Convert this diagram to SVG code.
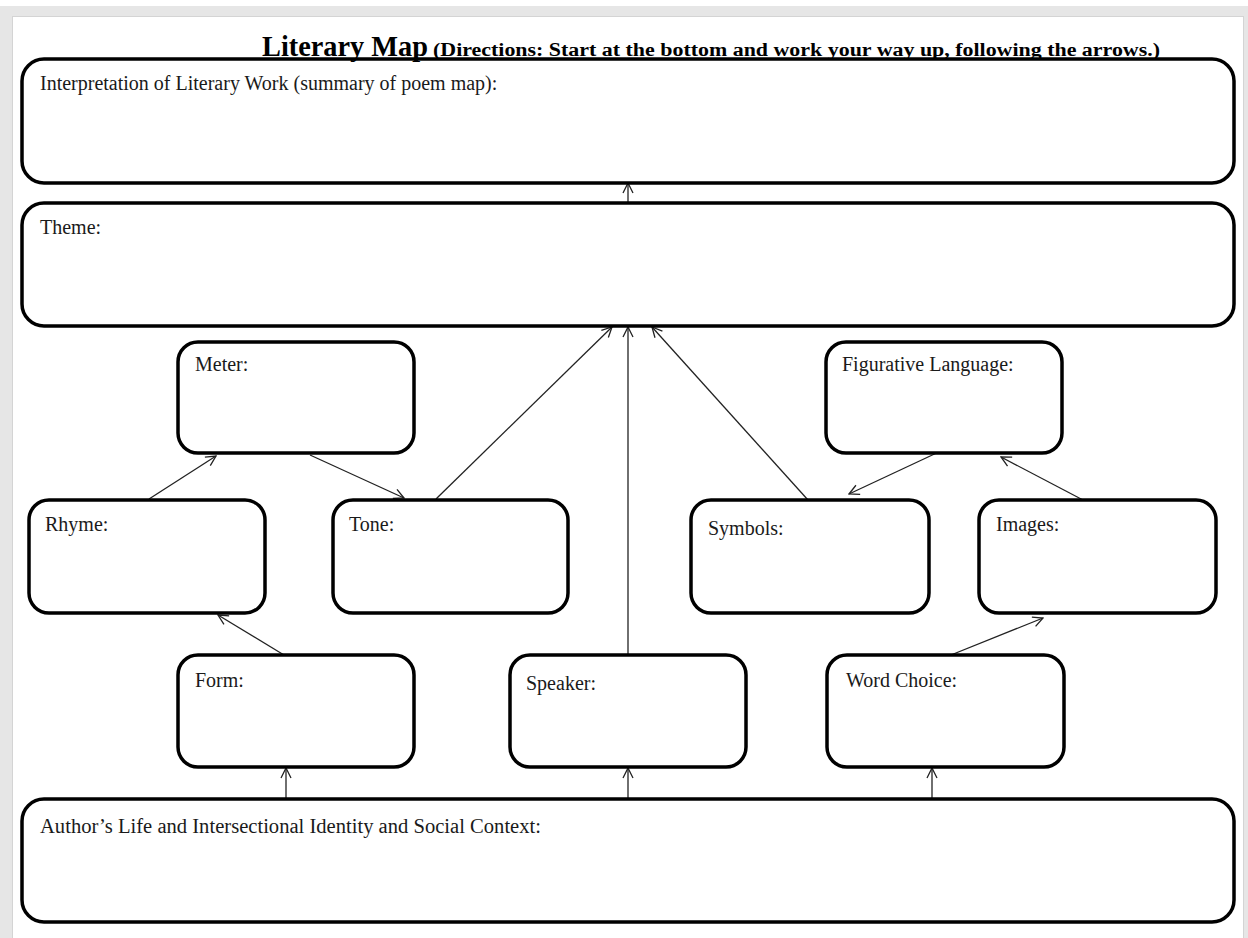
<svg xmlns="http://www.w3.org/2000/svg" width="1248" height="938" viewBox="0 0 1248 938">
  <style>
    .box { fill: #ffffff; stroke: #000000; stroke-width: 3.5; }
    .lbl { font-family: "Liberation Serif", "Times New Roman", serif; font-size: 20px; fill: #1a1a1a; }
    .conn { stroke: #222222; stroke-width: 1.3; fill: none; marker-end: url(#arr); }
    .title { font-family: "Liberation Serif", "Times New Roman", serif; font-weight: bold; fill: #000000; }
  </style>
  <defs>
    <marker id="arr" viewBox="0 0 12 12" refX="11" refY="6" markerWidth="12" markerHeight="12" markerUnits="userSpaceOnUse" orient="auto">
      <path d="M1,1 L11,6 L1,11" fill="none" stroke="#222222" stroke-width="1.3"/>
    </marker>
  </defs>

  <!-- page background -->
  <rect x="0" y="0" width="1248" height="938" fill="#ffffff"/>
  <rect x="0" y="6" width="1248" height="932" fill="#e6e6e6"/>
  <rect x="12.5" y="16.5" width="1231" height="922" fill="#ffffff" stroke="#d4d4d4" stroke-width="1"/>

  <!-- connectors -->
  <g id="connectors">
    <line class="conn" x1="628" y1="203" x2="628" y2="183"/>
    <line class="conn" x1="286" y1="799" x2="286" y2="768"/>
    <line class="conn" x1="628" y1="799" x2="628" y2="768"/>
    <line class="conn" x1="932" y1="799" x2="932" y2="768"/>
    <line class="conn" x1="284" y1="655" x2="218" y2="615"/>
    <line class="conn" x1="149" y1="499" x2="216" y2="456"/>
    <line class="conn" x1="310" y1="455" x2="404" y2="498"/>
    <line class="conn" x1="436" y1="499" x2="612" y2="327"/>
    <line class="conn" x1="628" y1="655" x2="628" y2="327"/>
    <line class="conn" x1="808" y1="500" x2="652" y2="327"/>
    <line class="conn" x1="943" y1="450" x2="849" y2="494"/>
    <line class="conn" x1="1083" y1="500" x2="1001" y2="457"/>
    <line class="conn" x1="946" y1="657" x2="1043" y2="618"/>
  </g>

  <!-- nodes -->
  <g id="interpretation">
    <rect class="box" x="22" y="59" width="1212" height="124" rx="22"/>
    <text class="lbl" x="40" y="90">Interpretation of Literary Work (summary of poem map):</text>
  </g>
  <g id="theme">
    <rect class="box" x="22" y="203" width="1212" height="123" rx="22"/>
    <text class="lbl" x="40" y="234">Theme:</text>
  </g>
  <g id="meter">
    <rect class="box" x="178" y="342" width="236" height="111" rx="20"/>
    <text class="lbl" x="195" y="371">Meter:</text>
  </g>
  <g id="figurative">
    <rect class="box" x="826" y="342" width="236" height="111" rx="20"/>
    <text class="lbl" x="842" y="371">Figurative Language:</text>
  </g>
  <g id="rhyme">
    <rect class="box" x="29" y="500" width="236" height="113" rx="20"/>
    <text class="lbl" x="45" y="531">Rhyme:</text>
  </g>
  <g id="tone">
    <rect class="box" x="333" y="500" width="235" height="113" rx="20"/>
    <text class="lbl" x="349" y="531">Tone:</text>
  </g>
  <g id="symbols">
    <rect class="box" x="691" y="500" width="238" height="113" rx="20"/>
    <text class="lbl" x="708" y="535">Symbols:</text>
  </g>
  <g id="images">
    <rect class="box" x="979" y="500" width="237" height="113" rx="20"/>
    <text class="lbl" x="996" y="531">Images:</text>
  </g>
  <g id="form">
    <rect class="box" x="178" y="655" width="236" height="112" rx="20"/>
    <text class="lbl" x="195" y="687">Form:</text>
  </g>
  <g id="speaker">
    <rect class="box" x="510" y="655" width="236" height="112" rx="20"/>
    <text class="lbl" x="526" y="690">Speaker:</text>
  </g>
  <g id="wordchoice">
    <rect class="box" x="827" y="655" width="237" height="112" rx="20"/>
    <text class="lbl" x="846" y="687">Word Choice:</text>
  </g>
  <g id="author">
    <rect class="box" x="22" y="799" width="1212" height="123" rx="22"/>
    <text class="lbl" x="40" y="833" textLength="501" lengthAdjust="spacingAndGlyphs">Author’s Life and Intersectional Identity and Social Context:</text>
  </g>

  <!-- title -->
  <g id="title">
    <text class="title" x="262" y="56" font-size="29" textLength="166" lengthAdjust="spacingAndGlyphs">Literary Map</text>
    <text class="title" x="433" y="56" font-size="18" textLength="727" lengthAdjust="spacingAndGlyphs">(Directions: Start at the bottom and work your way up, following the arrows.)</text>
  </g>
</svg>
